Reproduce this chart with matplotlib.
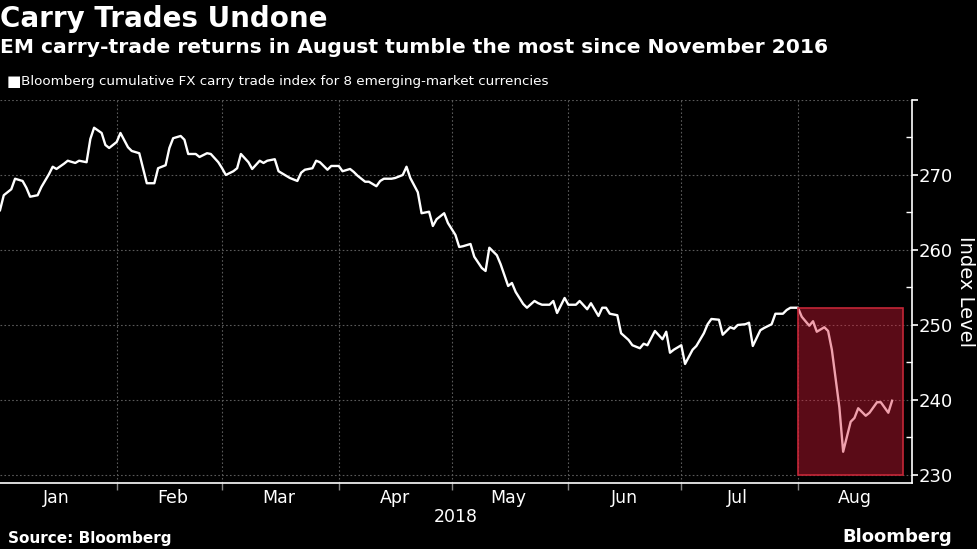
import pandas as pd
import matplotlib.pyplot as plt
import matplotlib.dates as mdates
from matplotlib.patches import Rectangle
from matplotlib.ticker import MultipleLocator, FixedLocator, NullFormatter

# region Data
# days since 2018-01-01 for each point of the series
day_offset = [
    0, 1, 3, 4, 6, 7, 8, 10, 11, 13, 14, 15, 17, 18, 20, 21, 23, 24, 25, 27,
    28, 29, 31, 32, 34, 35, 37, 38, 39, 41, 42, 44, 45, 46, 48, 49, 50, 52, 53, 55,
    56, 58, 59, 60, 62, 63, 64, 66, 67, 69, 70, 71, 73, 74, 76, 77, 79, 80, 81, 83,
    84, 85, 87, 88, 90, 91, 93, 94, 95, 97, 98, 100, 101, 102, 104, 105, 107, 108, 109, 111,
    112, 114, 115, 116, 118, 119, 121, 122, 123, 125, 126, 128, 129, 130, 132, 133, 135, 136, 137, 139,
    140, 142, 143, 144, 146, 147, 148, 150, 151, 153, 154, 156, 157, 159, 160, 161, 162, 164, 165, 167,
    168, 170, 171, 172, 174, 176, 177, 178, 179, 181, 182, 184, 185, 187, 188, 189, 191, 192, 194, 195,
    196, 198, 199, 200, 202, 203, 205, 206, 208, 209, 210, 212, 213, 215, 216, 217, 219, 220, 221, 223,
    224, 226, 227, 228, 230, 231, 233, 234, 236, 237,
]
index_level = [
    265.3, 267.3, 268.1, 269.5, 269.2, 268.3, 267.1, 267.3, 268.4, 270.1,
    271.1, 270.8, 271.5, 271.9, 271.6, 271.9, 271.7, 274.8, 276.3, 275.6,
    274.0, 273.6, 274.4, 275.6, 273.7, 273.2, 272.9, 270.9, 268.9, 268.9,
    270.9, 271.3, 273.6, 274.9, 275.2, 274.7, 272.8, 272.8, 272.4, 272.9,
    272.8, 271.7, 270.9, 270.0, 270.5, 270.9, 272.8, 271.7, 270.8, 271.9,
    271.6, 271.9, 272.1, 270.5, 269.9, 269.6, 269.2, 270.3, 270.7, 270.9,
    271.9, 271.7, 270.7, 271.2, 271.2, 270.5, 270.8, 270.4, 269.9, 269.1,
    269.1, 268.5, 269.2, 269.5, 269.5, 269.6, 270.0, 271.1, 269.6, 267.7,
    264.9, 265.1, 263.2, 264.1, 264.9, 263.6, 262.0, 260.4, 260.5, 260.8,
    259.1, 257.6, 257.2, 260.3, 259.3, 258.1, 255.2, 255.6, 254.4, 252.8,
    252.3, 253.2, 252.9, 252.7, 252.7, 253.2, 251.6, 253.6, 252.7, 252.7,
    253.2, 252.1, 252.9, 251.2, 252.3, 252.3, 251.5, 251.3, 248.9, 248.0,
    247.3, 246.9, 247.5, 247.3, 249.2, 248.1, 249.1, 246.3, 246.7, 247.3,
    244.8, 246.7, 247.2, 248.9, 250.1, 250.8, 250.7, 248.7, 249.7, 249.5,
    250.0, 250.1, 250.3, 247.2, 249.3, 249.6, 250.1, 251.5, 251.5, 252.0,
    252.3, 252.3, 251.1, 249.9, 250.5, 249.1, 249.7, 249.2, 246.7, 239.0,
    233.1, 237.1, 237.6, 238.9, 237.9, 238.3, 239.7, 239.7, 238.3, 239.9,
]
month_labels = ["Jan", "Feb", "Mar", "Apr", "May", "Jun", "Jul", "Aug"]
y_ticks = [230, 240, 250, 260, 270, 280]
# August highlight box
box_start, box_end = "2018-08-01", "2018-08-29"
box_low, box_high = 230, 252.3
# endregion

start = pd.Timestamp("2018-01-01")
dates = start + pd.to_timedelta(day_offset, unit="D")

fig = plt.figure(figsize=(9.77, 5.49), dpi=100, facecolor="black")
ax = fig.add_axes([0, 0.1202, 0.9335, 0.6977], facecolor="black")

ax.plot(dates, index_level, color="white", lw=1.7, zorder=3)

# region Highlight box
x0 = mdates.date2num(pd.Timestamp(box_start))
x1 = mdates.date2num(pd.Timestamp(box_end))
ax.add_patch(Rectangle((x0, box_low), x1 - x0, box_high - box_low,
                       facecolor=(0.86, 0.11, 0.22), alpha=0.41, lw=0, zorder=4))
ax.add_patch(Rectangle((x0, box_low), x1 - x0, box_high - box_low,
                       facecolor="none", edgecolor="#c42637", lw=1.2, zorder=5))
# endregion

# region Axes styling
ax.set_xlim(start, start + pd.Timedelta(days=242.3))
ax.set_ylim(228.93, 280)

for side in ["left", "top"]:
    ax.spines[side].set_visible(False)
for side in ["right", "bottom"]:
    ax.spines[side].set_color("white")
    ax.spines[side].set_linewidth(1.2)

ax.yaxis.tick_right()
ax.yaxis.set_label_position("right")
ax.yaxis.set_major_locator(FixedLocator(y_ticks))
ax.set_yticklabels([str(v) for v in y_ticks[:-1]] + [""])
ax.yaxis.set_minor_locator(MultipleLocator(5))
ax.tick_params(axis="y", which="major", direction="out", length=4, width=1.2,
               colors="white", labelsize=13, pad=1)
ax.tick_params(axis="y", which="minor", direction="in", length=4, width=1,
               colors="white")

month_starts = pd.date_range("2018-02-01", periods=7, freq="MS")
mid_month = pd.date_range("2018-01-01", periods=8, freq="MS") + pd.Timedelta(days=15)
ax.set_xticks(mdates.date2num(month_starts))
ax.xaxis.set_major_formatter(NullFormatter())
ax.set_xticks(mdates.date2num(mid_month), minor=True)
ax.set_xticklabels(month_labels, minor=True)
ax.tick_params(axis="x", which="major", direction="out", length=5, width=1,
               colors="#888888")
ax.tick_params(axis="x", which="minor", length=0, colors="white",
               labelsize=12.5, pad=4)

ax.grid(True, which="major", color="#5a5a5a", linestyle=(0, (1.5, 2)), lw=0.8)
ax.set_axisbelow(True)

ax.set_ylabel("Index Level", color="white", fontsize=14, rotation=-90,
              labelpad=16)
ax.set_xlabel("2018", color="white", fontsize=12.5, labelpad=1)
# endregion

# region Titles and footer
fig.text(0.0, 0.99, "Carry Trades Undone", color="white", fontsize=20,
         fontweight="bold", va="top", ha="left")
fig.text(0.0, 0.93, "EM carry-trade returns in August tumble the most since November 2016",
         color="white", fontsize=14.6, fontweight="bold", va="top", ha="left")
fig.text(0.007, 0.851, "\u25a0", color="white", fontsize=11, va="center", ha="left")
fig.text(0.022, 0.851,
         "Bloomberg cumulative FX carry trade index for 8 emerging-market currencies",
         color="white", fontsize=9.7, va="center", ha="left")
fig.text(0.008, 0.006, "Source: Bloomberg", color="white", fontsize=11,
         fontweight="bold", va="bottom", ha="left")
fig.text(0.975, 0.006, "Bloomberg", color="white", fontsize=13,
         fontweight="bold", va="bottom", ha="right")
# endregion

fig.savefig("out.png", dpi=100, facecolor="black")
